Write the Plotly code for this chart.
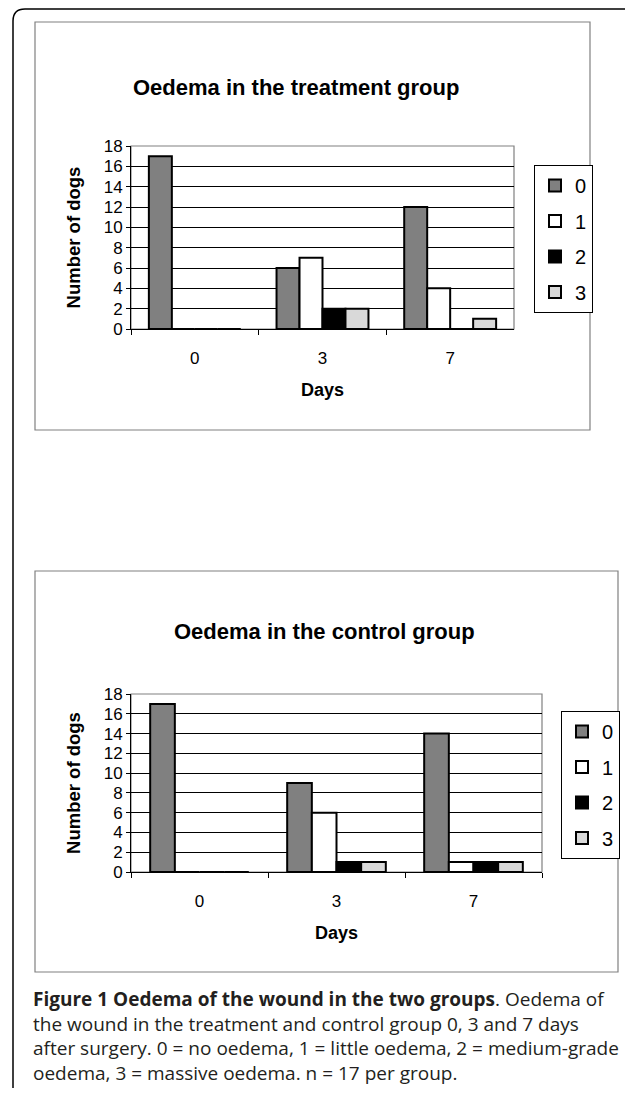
import plotly.graph_objects as go

# page body has an 8px margin, so the figure is placed at (8, 8)
OFF = 8
W, H = 617, 1080

days = ["0", "3", "7"]
grades = ["0", "1", "2", "3"]
treatment = {
    "0": [17, 6, 12],
    "1": [0, 7, 4],
    "2": [0, 2, 0],
    "3": [0, 2, 1],
}
control = {
    "0": [17, 9, 14],
    "1": [0, 6, 1],
    "2": [0, 1, 1],
    "3": [0, 1, 1],
}
y_ticks = list(range(0, 19, 2))
colors = {"0": "#808080", "1": "#ffffff", "2": "#000000", "3": "#d9d9d9"}

FONT = "Liberation Sans, Arial, sans-serif"


def px(x):
    return (x - OFF) / W


def py(y):
    return 1 - (y - OFF) / H


fig = go.Figure()

for g in grades:
    fig.add_trace(go.Bar(
        x=days, y=treatment[g], name=g, xaxis="x", yaxis="y",
        marker=dict(color=colors[g], line=dict(color="#000000", width=2)),
        legend="legend", legendgroup="t" + g,
    ))
for g in grades:
    fig.add_trace(go.Bar(
        x=days, y=control[g], name=g, xaxis="x2", yaxis="y2",
        marker=dict(color=colors[g], line=dict(color="#000000", width=2)),
        legend="legend2", legendgroup="c" + g,
    ))

xcommon = dict(
    type="category", showline=True, linecolor="#000000", linewidth=1,
    ticks="outside", tickson="boundaries", ticklen=5, tickcolor="#000000",
    showgrid=False, tickfont=dict(family=FONT, size=17, color="#000000"),
    ticklabelstandoff=14, automargin=False,
    title=dict(text="<b>Days</b>", font=dict(family=FONT, size=18, color="#000000"), standoff=15),
)
ycommon = dict(
    range=[0, 18], tickvals=y_ticks, showline=True, linecolor="#000000", linewidth=1,
    ticks="outside", ticklen=4, tickcolor="#000000",
    showgrid=True, gridcolor="#000000", gridwidth=1, zeroline=False,
    tickfont=dict(family=FONT, size=17, color="#000000"), automargin=False,
    title=dict(text="<b>Number of dogs</b>", font=dict(family=FONT, size=18.5, color="#000000"), standoff=18),
)

legcommon = dict(
    xanchor="left", yanchor="top",
    bordercolor="#000000", borderwidth=1, bgcolor="#ffffff",
    font=dict(family=FONT, size=20, color="#000000"),
    itemwidth=30, traceorder="grouped",
)

fig.update_layout(
    width=W, height=H, margin=dict(l=0, r=0, t=0, b=0),
    paper_bgcolor="#ffffff", plot_bgcolor="#ffffff",
    barmode="group", bargap=0.28, bargroupgap=0,
    xaxis=dict(domain=[px(131), px(514)], anchor="y", **xcommon),
    yaxis=dict(domain=[py(329), py(146)], anchor="x", **ycommon),
    xaxis2=dict(domain=[px(131), px(542)], anchor="y2", **xcommon),
    yaxis2=dict(domain=[py(872), py(694)], anchor="x2", **ycommon),
    legend=dict(x=px(534), y=py(165), tracegroupgap=6.5, **legcommon),
    legend2=dict(x=px(561), y=py(711), tracegroupgap=6.5, **legcommon),
    hovermode=False,
)

shapes = []
# outer rounded frame
shapes.append(dict(type="path", xref="paper", yref="paper",
                   path=f"M {px(13)},{py(1100)} L {px(13)},{py(21)} Q {px(13)},{py(9)} {px(25)},{py(9)} L {px(640)},{py(9)}",
                   line=dict(color="#000000", width=1.5)))
# chart boxes
shapes.append(dict(type="rect", xref="paper", yref="paper",
                   x0=px(35), x1=px(590), y0=py(430), y1=py(22),
                   line=dict(color="#808080", width=1.2)))
shapes.append(dict(type="rect", xref="paper", yref="paper",
                   x0=px(35), x1=px(618), y0=py(972), y1=py(571),
                   line=dict(color="#808080", width=1.2)))
# plot area frames (grey)
for xr, yr in (("x", "y"), ("x2", "y2")):
    shapes.append(dict(type="rect", xref=f"{xr} domain", yref=f"{yr} domain",
                       x0=0, x1=1, y0=0, y1=1, layer="below",
                       line=dict(color="#808080", width=1.2)))
fig.update_layout(shapes=shapes)

annotations = [
    dict(text="<b>Oedema in the treatment group</b>", x=px(296), y=py(87),
         xref="paper", yref="paper", showarrow=False, xanchor="center", yanchor="middle",
         font=dict(family=FONT, size=22, color="#000000")),
    dict(text="<b>Oedema in the control group</b>", x=px(324), y=py(631),
         xref="paper", yref="paper", showarrow=False, xanchor="center", yanchor="middle",
         font=dict(family=FONT, size=22, color="#000000")),
]
CAP = "Open Sans, Noto Sans, sans-serif"
caption_lines = [
    "<b>Figure 1 Oedema of the wound in the two groups</b>. Oedema of",
    "the wound in the treatment and control group 0, 3 and 7 days",
    "after surgery. 0 = no oedema, 1 = little oedema, 2 = medium-grade",
    "oedema, 3 = massive oedema. n = 17 per group.",
]
annotations.append(dict(text="<br>".join(caption_lines), x=px(31), y=py(1036),
                        xref="paper", yref="paper", showarrow=False,
                        xanchor="left", yanchor="middle", align="left",
                        font=dict(family=CAP, size=19, color="#231f20")))
fig.update_layout(annotations=annotations)

fig.write_html("out.html")
